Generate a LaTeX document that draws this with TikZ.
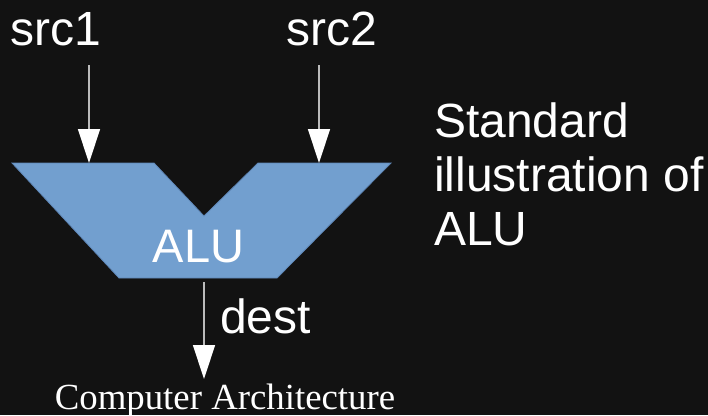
\documentclass[tikz,border=0pt]{standalone}
\usepackage{fontspec}
\setmainfont{Liberation Sans}
\newfontfamily\serifcap{Liberation Serif}
\usetikzlibrary{arrows.meta}
\definecolor{bgc}{HTML}{121212}
\definecolor{alufill}{HTML}{729FCF}
\definecolor{aluedge}{HTML}{5E86B6}
\definecolor{linec}{HTML}{BBBBBB}
\tikzset{
  lbl/.style={text=white,inner sep=0pt,font=\fontsize{48}{54}\selectfont},
  conn/.style={draw=linec,line width=1.4pt,-{Triangle[length=34pt,width=22pt,color=white,fill=white]}},
  alushape/.style={fill=alufill,draw=aluedge,line width=0.8pt,line join=miter}
}
\begin{document}
\begin{tikzpicture}[x=1pt,y=-1pt]
\useasboundingbox (0,0) rectangle (708,415);
\fill[bgc] (0,0) rectangle (708,415);
% ALU shape
\coordinate (p1) at (12,163);
\coordinate (p2) at (154,163);
\coordinate (notch) at (204,216);
\coordinate (p4) at (258,163);
\coordinate (p5) at (391,163);
\coordinate (p6) at (277,278);
\coordinate (p7) at (119,278);
\draw[alushape] (p1) -- (p2) -- (notch) -- (p4) -- (p5) -- (p6) -- (p7) -- cycle;
\node[lbl,anchor=base,font=\fontsize{47}{54}\selectfont] (alu) at (198.5,262) {ALU};
% labels
\node[lbl,anchor=base west] (src1) at (10.5,45) {src1};
\node[lbl,anchor=base west] (src2) at (286.5,45) {src2};
\node[lbl,anchor=base west] (dest) at (220,333) {dest};
\node[lbl,anchor=north west,align=left] (std) at (434,102.5) {Standard\\illustration of\\ALU};
\node[text=white,inner sep=0pt,anchor=base,font=\serifcap\fontsize{36.8}{40}\selectfont] (arch) at (225,409) {Computer Architecture};
% connectors
\coordinate (a1s) at (89,65);
\coordinate (a1e) at (89,163);
\coordinate (a2s) at (319,65);
\coordinate (a2e) at (319,163);
\coordinate (ds) at (204,282);
\coordinate (de) at (204,379);
\draw[conn] (a1s) -- (a1e);
\draw[conn] (a2s) -- (a2e);
\draw[conn] (ds) -- (de);
\end{tikzpicture}
\end{document}
